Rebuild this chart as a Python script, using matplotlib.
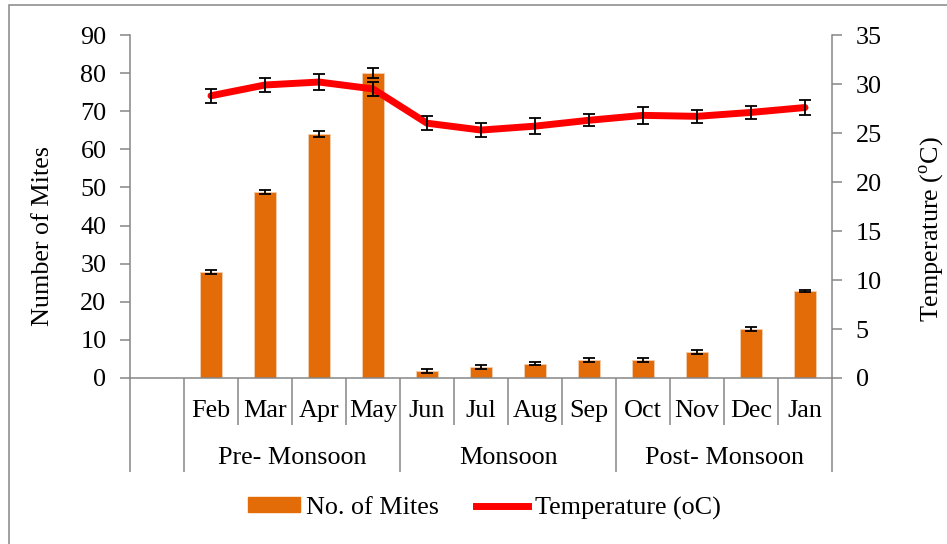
import matplotlib
matplotlib.use('Agg')
import matplotlib.pyplot as plt
from matplotlib.patches import Rectangle, Patch
from matplotlib.lines import Line2D

plt.rcParams['font.family'] = 'Liberation Serif'
plt.rcParams['mathtext.fontset'] = 'custom'
plt.rcParams['mathtext.rm'] = 'Liberation Serif'

months = ['Feb', 'Mar', 'Apr', 'May', 'Jun', 'Jul',
          'Aug', 'Sep', 'Oct', 'Nov', 'Dec', 'Jan']
seasons = ['Pre- Monsoon', 'Monsoon', 'Post- Monsoon']
months_per_season = 4

mites = [27.8, 48.8, 64.0, 80.0, 1.8, 2.9, 3.8, 4.8, 4.8, 6.8, 12.8, 22.9]
mites_err = [0.5, 0.6, 0.7, 1.3, 0.5, 0.5, 0.5, 0.5, 0.5, 0.5, 0.5, 0.3]

temp = [28.8, 29.9, 30.2, 29.5, 26.0, 25.3, 25.7, 26.3, 26.8, 26.7, 27.1, 27.6]
temp_err = [0.7, 0.7, 0.8, 0.7, 0.7, 0.75, 0.8, 0.6, 0.85, 0.65, 0.65, 0.8]

GRAY = '#868686'
ORANGE = '#E36C09'
FS = 18.8


def main():
    fig = plt.figure(figsize=(9.47, 5.44), dpi=100)
    ax = fig.add_axes([130 / 947, 166 / 544, 702 / 947, 343 / 544])
    ax2 = ax.twinx()

    # first category slot stays empty, months fill slots 1..12
    x = list(range(1, len(months) + 1))

    ax.bar(x, mites, width=0.4, color=ORANGE, edgecolor='#f4cfb0',
           linewidth=0.6, zorder=2)
    ax.errorbar(x, mites, yerr=mites_err, fmt='none', ecolor='black',
                elinewidth=1.3, capsize=4.5, capthick=1.3, zorder=3)

    ax2.plot(x, temp, color='#FF0000', lw=5, solid_capstyle='round', zorder=2)
    ax2.errorbar(x, temp, yerr=temp_err, fmt='none', ecolor='black',
                 elinewidth=1.3, capsize=4.5, capthick=1.3, zorder=3)

    ax.set_xlim(-0.5, len(months) + 0.5)
    ax.set_ylim(0, 90)
    ax.set_yticks(range(0, 91, 10))
    ax2.set_ylim(0, 35)
    ax2.set_yticks(range(0, 36, 5))

    for a in (ax, ax2):
        for s in a.spines.values():
            s.set_visible(False)
        a.tick_params(axis='y', colors=GRAY, labelcolor='black',
                      labelsize=FS, length=7, width=1.1, pad=10)
    ax.spines['left'].set_visible(True)
    ax.spines['bottom'].set_visible(True)
    ax2.spines['right'].set_visible(True)
    for s in (ax.spines['left'], ax.spines['bottom'], ax2.spines['right']):
        s.set_color(GRAY)
        s.set_linewidth(1.1)

    # category separators: long ticks at season edges, short between months
    season_edges = [-0.5, 0.5] + [0.5 + months_per_season * (k + 1)
                                  for k in range(len(seasons))]
    month_edges = [m + 0.5 for m in x[:-1] if (m + 0.5) not in season_edges]
    ax.set_xticks(season_edges)
    ax.set_xticks(month_edges, minor=True)
    ax.tick_params(axis='x', which='major', length=94 * 0.72, width=1.1,
                   color=GRAY, labelbottom=False)
    ax.tick_params(axis='x', which='minor', length=47 * 0.72, width=1.1,
                   color=GRAY, labelbottom=False)

    tr = ax.get_xaxis_transform()
    for xi, m in zip(x, months):
        ax.text(xi, -0.095, m, transform=tr, ha='center', va='center',
                fontsize=FS)
    for k, s in enumerate(seasons):
        xc = 0.5 + months_per_season * k + months_per_season / 2
        ax.text(xc, -0.233, s, transform=tr, ha='center', va='center',
                fontsize=FS)

    fig.text(43 / 947, 1 - 236 / 544, 'Number of Mites', rotation=90,
             ha='center', va='center', fontsize=FS)
    fig.text(932 / 947, 1 - 229 / 544, 'Temperature ($^{\\mathrm{o}}$C)',
             rotation=90, ha='center', va='center', fontsize=FS)

    handles = [Patch(color=ORANGE), Line2D([], [], color='#FF0000', lw=5)]
    fig.legend(handles, ['No. of Mites', 'Temperature (oC)'], ncol=2,
               loc='center', bbox_to_anchor=(484 / 947, 1 - 508 / 544),
               frameon=False, fontsize=FS, handlelength=2.0,
               handleheight=0.5, handletextpad=0.25, columnspacing=1.4)

    # chart area border
    fig.add_artist(Rectangle((8.5 / 947, -0.1), 1.2, 1.1 - 5.5 / 544,
                             transform=fig.transFigure, fill=False,
                             edgecolor=GRAY, linewidth=1.1))

    fig.savefig('out.png', dpi=100)


if __name__ == '__main__':
    main()
